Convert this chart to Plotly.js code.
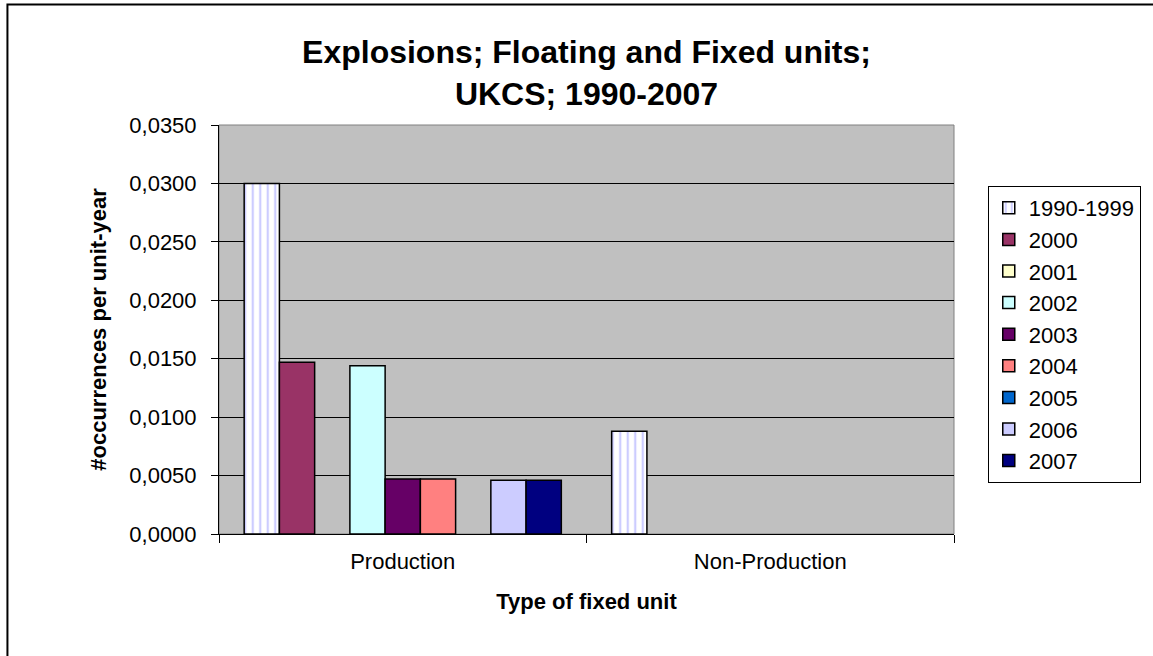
<!DOCTYPE html>
<html>
<head>
<meta charset="utf-8">
<script src="https://cdn.plot.ly/plotly-3.0.1.min.js"></script>
<style>
  html, body { margin: 0; padding: 0; background: #ffffff; }
  #chart { width: 1153px; height: 656px; }
</style>
</head>
<body>
<div id="chart"></div>
<script>
// Categories (x axis)
const categories = ["Production", "Non-Production"];

// Series names (legend)
const seriesNames = ["1990-1999", "2000", "2001", "2002", "2003", "2004", "2005", "2006", "2007"];

// Series values per category (null = no bar)
const v1990_1999 = [0.0300, 0.0088];
const v2000 = [0.0147, null];
const v2001 = [null, null];
const v2002 = [0.0144, null];
const v2003 = [0.0047, null];
const v2004 = [0.0047, null];
const v2005 = [null, null];
const v2006 = [0.0046, null];
const v2007 = [0.0046, null];

const seriesValues = [v1990_1999, v2000, v2001, v2002, v2003, v2004, v2005, v2006, v2007];

// Classic Excel palette colours
const seriesColors = ["#FFFFFF", "#993366", "#FFFFCC", "#CCFFFF", "#660066", "#FF8080", "#0066CC", "#CCCCFF", "#000080"];

const FONT = "Arial, 'Liberation Sans', sans-serif";

const traces = seriesNames.map((name, i) => {
  const t = {
    type: "bar",
    name: name,
    x: categories,
    y: seriesValues[i],
    legendgroup: "g" + i,
    marker: {
      color: seriesColors[i],
      line: { color: "#000000", width: 1.5 }
    },
    hoverinfo: "x+y+name"
  };
  if (i === 0) {
    t.marker.pattern = {
      shape: "|",
      fgcolor: "#9999FF",
      bgcolor: "#FFFFFF",
      size: 7.5,
      solidity: 0.3,
      fillmode: "overlay"
    };
  }
  return t;
});

// plot area geometry helpers (paper coordinates)
const L = 219, R = 194, T = 125, B = 122;
const W = 1153, H = 656;
const PW = W - L - R, PH = H - T - B;
const px = (x) => (x - L) / PW;
const py = (y) => (H - B - y) / PH;

const layout = {
  width: W,
  height: H,
  margin: { l: L, r: R, t: T, b: B, pad: 0 },
  paper_bgcolor: "#FFFFFF",
  plot_bgcolor: "#C0C0C0",
  separators: ", ",
  font: { family: FONT, size: 22, color: "#000000" },
  title: {
    text: "<b>Explosions; Floating and Fixed units;<br>UKCS; 1990-2007</b>",
    font: { family: FONT, size: 32, color: "#000000" },
    x: 0.5,
    xref: "paper",
    xanchor: "center",
    y: 1 - 63 / H,
    yref: "container",
    yanchor: "middle"
  },
  barmode: "group",
  bargap: 0.137,
  bargroupgap: 0,
  xaxis: {
    type: "category",
    tickson: "boundaries",
    ticks: "outside",
    ticklen: 8,
    tickcolor: "#000000",
    tickwidth: 1,
    showline: true,
    linecolor: "#000000",
    linewidth: 1,
    showgrid: false,
    ticklabelstandoff: 8,
    tickfont: { family: FONT, size: 22, color: "#000000" },
    title: {
      text: "<b>Type of fixed unit</b>",
      font: { family: FONT, size: 22, color: "#000000" },
      standoff: 20
    }
  },
  yaxis: {
    range: [0, 0.035],
    dtick: 0.005,
    tick0: 0,
    tickformat: ".4f",
    ticks: "outside",
    ticklen: 7,
    tickcolor: "#000000",
    tickwidth: 1,
    showline: true,
    linecolor: "#000000",
    linewidth: 1,
    showgrid: true,
    gridcolor: "#000000",
    gridwidth: 1,
    zeroline: false,
    ticklabelstandoff: 10,
    tickfont: { family: FONT, size: 22, color: "#000000" },
    title: {
      text: "<b>#occurrences per unit-year</b>",
      font: { family: FONT, size: 22, color: "#000000" },
      standoff: 16
    }
  },
  legend: {
    x: px(993),
    xanchor: "left",
    y: py(186),
    yanchor: "top",
    bgcolor: "#FFFFFF",
    bordercolor: "#000000",
    borderwidth: 1,
    font: { family: FONT, size: 22, color: "#000000" },
    tracegroupgap: 0,
    traceorder: "normal",
    itemclick: false
  },
  shapes: [
    {
      type: "rect", xref: "paper", yref: "paper",
      x0: 0, x1: 1, y0: 0, y1: 1,
      line: { color: "#808080", width: 1 },
      layer: "below"
    },
    {
      type: "rect", xref: "paper", yref: "paper",
      x0: px(6), x1: px(1170), y0: py(670), y1: py(4.5),
      line: { color: "#000000", width: 2 },
      fillcolor: "rgba(0,0,0,0)",
      layer: "above"
    }
  ],
  showlegend: true
};

Plotly.newPlot("chart", traces, layout, { displayModeBar: false, responsive: false });
</script>
</body>
</html>
